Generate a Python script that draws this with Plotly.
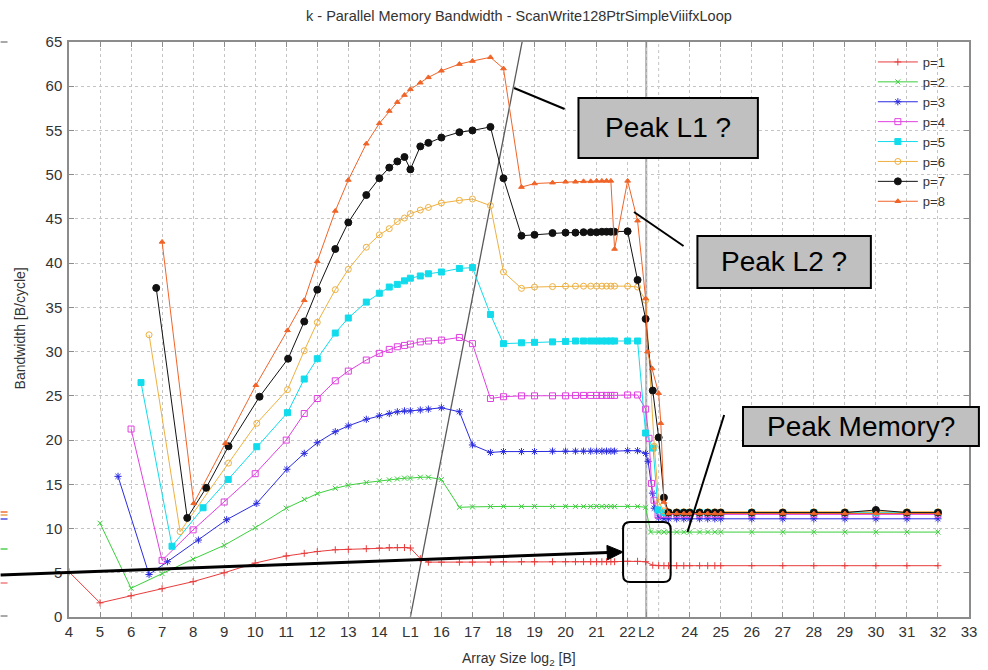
import plotly.graph_objects as go

# ---------------- data ----------------
L1 = 15
L2 = 22.6

x_ticks = [4, 5, 6, 7, 8, 9, 10, 11, 12, 13, 14, L1, 16, 17, 18, 19, 20, 21, 22, L2,
           24, 25, 26, 27, 28, 29, 30, 31, 32, 33]
x_ticktext = ["4", "5", "6", "7", "8", "9", "10", "11", "12", "13", "14", "L1", "16", "17",
              "18", "19", "20", "21", "22", "L2", "24", "25", "26", "27", "28", "29",
              "30", "31", "32", "33"]
unlabelled_grid_x = [23]
y_ticks = [0, 5, 10, 15, 20, 25, 30, 35, 40, 45, 50, 55, 60, 65]

# shared array-size positions (log2 bytes)
mid_x = [11.58, 12, 12.58, 13, 13.58, 14, 14.32, 14.58, 14.81, 15, 15.32, 15.58, 16,
         16.58, 17, 17.58, 18, 18.58, 19, 19.58, 20, 20.32, 20.58, 20.81, 21, 21.17,
         21.32, 21.46, 21.58, 22, 22.32, 22.58]
tail_x = [23.32, 23.58, 23.81, 24, 24.32, 24.58, 24.81, 25, 26, 27, 28, 29, 30, 31, 32]

p1_x = [4, 5, 6, 7, 8, 9, 10, 11] + mid_x + [22.81, 23, 23.17] + tail_x
p1_y = [5.1, 1.6, 2.4, 3.2, 4.0, 5.0, 6.1, 6.9,
        7.2, 7.4, 7.6, 7.65, 7.72, 7.8, 7.85, 7.85, 7.85, 7.8, 6.6, 6.2, 6.2, 6.2, 6.2,
        6.2, 6.25, 6.25, 6.25, 6.25, 6.25, 6.25, 6.25, 6.25, 6.25, 6.25, 6.25, 6.25,
        6.25, 6.3, 6.3, 6.25,
        5.85, 5.8, 5.8,
        5.8, 5.8, 5.8, 5.8, 5.8, 5.8, 5.8, 5.8, 5.8, 5.8, 5.8, 5.8, 5.8, 5.8, 5.8]

p2_x = [5, 6, 7, 8, 9, 10, 11] + mid_x + [22.74, 23, 23.17] + tail_x
p2_y = [10.6, 3.25, 4.9, 6.55, 8.1, 10.1, 12.3,
        13.3, 13.95, 14.55, 14.9, 15.2, 15.4, 15.5, 15.6, 15.7, 15.7, 15.8, 15.8, 15.55,
        12.4, 12.45, 12.5, 12.5, 12.5, 12.5, 12.5, 12.5, 12.5, 12.5, 12.5, 12.5, 12.5,
        12.5, 12.5, 12.5, 12.5, 12.5, 12.4,
        9.6, 9.6, 9.6,
        9.6, 9.6, 9.6, 9.6, 9.6, 9.6, 9.6, 9.6, 9.6, 9.6, 9.6, 9.6, 9.6, 9.6, 9.6]

p3_x = [5.58, 6.58, 7.17, 8.17, 9.08, 10.05, 11.02] + mid_x + [22.66, 22.8, 22.86, 23, 23.17] + tail_x
p3_y = [15.9, 4.8, 6.25, 8.7, 11.0, 12.85, 16.7,
        18.5, 19.7, 20.95, 21.6, 22.35, 22.75, 23.0, 23.2, 23.3, 23.3, 23.4, 23.5, 23.65,
        23.2, 19.45, 18.6, 18.7, 18.7, 18.7, 18.75, 18.75, 18.75, 18.75, 18.75, 18.75,
        18.75, 18.75, 18.75, 18.75, 18.8, 18.8, 18.5,
        17.6, 14.0, 12.3, 11.2, 11.1,
        11.1, 11.1, 11.1, 11.1, 11.1, 11.1, 11.1, 11.1, 11.1, 11.1, 11.1, 11.1, 11.1, 11.1, 11.1]

p4_x = [6, 7, 8, 9, 10, 11] + mid_x + [22.69, 22.77, 22.85, 22.98, 23.17] + tail_x
p4_y = [21.25, 6.4, 9.85, 13.0, 16.2, 20.0,
        23.0, 24.7, 26.7, 27.8, 29.05, 29.8, 30.25, 30.55, 30.7, 30.85, 31.1, 31.2, 31.3,
        31.6, 30.9, 24.7, 24.9, 25.0, 25.0, 25.0, 25.0, 25.05, 25.05, 25.05, 25.05,
        25.05, 25.05, 25.05, 25.05, 25.1, 25.1, 23.5,
        20.2, 15.1, 13.2, 11.5, 11.6,
        11.6, 11.6, 11.6, 11.6, 11.6, 11.6, 11.6, 11.6, 11.6, 11.6, 11.6, 11.6, 11.6, 11.6, 11.6]

p5_x = [6.32, 7.32, 8.32, 9.13, 10.05, 11.04] + mid_x + [22.82, 22.98, 23.17] + tail_x
p5_y = [26.5, 8.0, 12.35, 15.55, 19.25, 23.1,
        26.9, 29.2, 32.1, 33.8, 35.6, 36.6, 37.3, 37.6, 38.0, 38.3, 38.55, 38.8, 39.0,
        39.4, 39.5, 34.2, 30.9, 31.0, 31.05, 31.1, 31.15, 31.2, 31.2, 31.2, 31.2, 31.2,
        31.2, 31.2, 31.2, 31.2, 31.2, 20.8,
        19.1, 12.1, 11.8,
        11.8, 11.8, 11.8, 11.8, 11.8, 11.8, 11.8, 11.8, 11.8, 11.8, 11.8, 11.8, 11.8, 11.8, 11.8]

p6_x = [6.58, 7.58, 9.14, 10.05, 11.04] + mid_x + [22.86, 23, 23.17] + tail_x
p6_y = [31.9, 9.65, 17.4, 21.9, 25.7,
        30.1, 33.3, 37.0, 39.3, 41.8, 43.2, 43.9, 44.7, 45.1, 45.6, 46.0, 46.3, 46.8,
        47.1, 47.25, 46.5, 39.0, 37.15, 37.3, 37.35, 37.4, 37.4, 37.4, 37.4, 37.4, 37.4,
        37.4, 37.4, 37.4, 37.4, 37.3, 35.8,
        19.3, 13.0, 12.0,
        11.9, 11.9, 11.9, 11.9, 11.9, 11.9, 11.9, 11.9, 11.9, 11.9, 11.9, 11.9, 11.9, 11.9, 11.9]

p7_x = [6.81, 7.81, 8.42, 9.14, 10.14, 11.06] + mid_x + [22.81, 23, 23.17] + tail_x
p7_y = [37.2, 11.2, 14.6, 19.3, 24.9, 29.2,
        33.4, 37.0, 41.6, 44.6, 47.7, 49.6, 50.8, 51.5, 52.0, 50.6, 53.2, 53.6, 54.2,
        54.8, 55.0, 55.4, 49.6, 43.1, 43.2, 43.4, 43.45, 43.45, 43.5, 43.5, 43.5, 43.55,
        43.55, 43.55, 43.55, 43.6, 38.1, 33.7,
        25.6, 20.3, 13.5,
        11.8, 11.8, 11.8, 11.8, 11.8, 11.8, 11.8, 11.8, 11.8, 11.8, 11.8, 11.8, 12.1, 11.8, 11.8]

p8_x = [7.0, 8.02, 9.04, 10.02, 11.04] + mid_x + [22.64, 22.79, 23, 23.07, 23.17] + tail_x
p8_y = [42.4, 12.85, 19.65, 26.2, 32.4,
        35.8, 40.2, 45.9, 49.4, 53.5, 55.8, 57.2, 58.2, 59.0, 59.65, 60.4, 61.0, 61.75,
        62.5, 62.85, 63.27, 62.0, 48.6, 49.0, 49.1, 49.2, 49.2, 49.25, 49.25, 49.3, 49.3,
        49.3, 49.3, 41.6, 49.3, 44.8, 36.0,
        30.0, 28.1, 25.3, 21.9, 13.0,
        11.7, 11.7, 11.7, 11.7, 11.7, 11.7, 11.7, 11.7, 11.7, 11.7, 11.7, 11.7, 11.7, 11.7, 11.7]

series_names = ["p=1", "p=2", "p=3", "p=4", "p=5", "p=6", "p=7", "p=8"]
series_x = [p1_x, p2_x, p3_x, p4_x, p5_x, p6_x, p7_x, p8_x]
series_y = [p1_y, p2_y, p3_y, p4_y, p5_y, p6_y, p7_y, p8_y]

# guide line drawn from L1 upward
diag_x = [L1, 18.6]
diag_y = [0, 65]

# ---------------- style ----------------
colors = ["#e83c3c", "#3ccf3c", "#2b2be0", "#e040e0", "#10dcec", "#eeb040", "#111111", "#f06428"]
symbols = ["cross-thin-open", "x-thin-open", "asterisk-open", "square-open", "square",
           "circle-open", "circle", "triangle-up"]
msizes = [5, 5, 6, 6, 6, 6, 7, 5]

PL, PR, PT, PB = 69, 977, 42, 617
W, H = 988, 670


def fx(px):
    return (px - PL) / (PR - PL)


def fy(py):
    return (PB - py) / (PB - PT)


def pt(px, py):
    return f"{fx(px)},{fy(py)}"


fig = go.Figure()

fig.add_trace(go.Scatter(x=diag_x, y=diag_y, mode="lines", showlegend=False,
                         line=dict(color="#5a5a5a", width=1.3), hoverinfo="skip"))

for name, xs, ys, c, s, ms in zip(series_names, series_x, series_y, colors, symbols, msizes):
    fig.add_trace(go.Scatter(
        x=xs, y=ys, mode="lines+markers", name=name,
        line=dict(color=c, width=1),
        marker=dict(symbol=s, size=ms, color=c, line=dict(color=c, width=1)),
    ))

GRIDCOL = "#c4c4c4"
axis_common = dict(
    showline=True, linecolor="#8c8c8c", linewidth=1.5, mirror="ticks",
    ticks="inside", ticklen=5, tickcolor="#8c8c8c", tickwidth=1,
    showgrid=True, gridcolor=GRIDCOL, gridwidth=1, griddash="dot",
    zeroline=False, tickfont=dict(family="Liberation Sans, Arial", size=15, color="#333333"),
)

fig.update_xaxes(range=[4, 33], tickmode="array", tickvals=x_ticks, ticktext=x_ticktext,
                 tickangle=0, **axis_common)
fig.update_yaxes(range=[0, 65], tickmode="array", tickvals=y_ticks, ticklabelstandoff=2,
                 **axis_common)

shapes = []
# grid line for the unlabelled position
for gx in unlabelled_grid_x:
    shapes.append(dict(type="line", xref="x", yref="y", x0=gx, x1=gx, y0=0, y1=65,
                       line=dict(color=GRIDCOL, width=1, dash="dot"), layer="below"))
# L2 marker line
shapes.append(dict(type="line", xref="x", yref="y", x0=L2, x1=L2, y0=0, y1=65,
                   line=dict(color="#a8a8a8", width=2), layer="below"))

# overlay call-out boxes
for (x0, y0, x1, y1) in [(583, 98, 764, 158), (703, 236, 878, 288), (749, 407, 987, 446)]:
    shapes.append(dict(type="rect", xref="paper", yref="paper",
                       x0=fx(x0), x1=fx(x1), y0=fy(y1), y1=fy(y0),
                       line=dict(color="#000000", width=2), fillcolor="#c0c0c0", layer="above"))

# pointer lines
for (x0, y0, x1, y1) in [(518, 88, 569, 109), (639, 212, 689, 246), (730, 415, 693, 532)]:
    shapes.append(dict(type="line", xref="paper", yref="paper",
                       x0=fx(x0), y0=fy(y0), x1=fx(x1), y1=fy(y1),
                       line=dict(color="#000000", width=2), layer="above"))

# big arrow (shaft + head)
shapes.append(dict(type="line", xref="paper", yref="paper",
                   x0=fx(0), y0=fy(575), x1=fx(613), y1=fy(552.6),
                   line=dict(color="#000000", width=3), layer="above"))
shapes.append(dict(type="path", xref="paper", yref="paper",
                   path=f"M {pt(628, 552)} L {pt(612.3, 559.8)} L {pt(611.7, 545.4)} Z",
                   fillcolor="#000000", line=dict(color="#000000", width=1), layer="above"))

# rounded rectangle
xl, xr, yt, yb = fx(628), fx(676), fy(522), fy(582)
rx, ry = 7 / (PR - PL), 7 / (PB - PT)
path = (f"M {xl+rx},{yt} L {xr-rx},{yt} Q {xr},{yt} {xr},{yt-ry} L {xr},{yb+ry} "
        f"Q {xr},{yb} {xr-rx},{yb} L {xl+rx},{yb} Q {xl},{yb} {xl},{yb+ry} "
        f"L {xl},{yt-ry} Q {xl},{yt} {xl+rx},{yt} Z")
shapes.append(dict(type="path", xref="paper", yref="paper", path=path,
                   line=dict(color="#000000", width=2), layer="above"))

# slide remnants at the left edge
for (yy, col) in [(42, "#8c8c8c"), (512, "#f07030"), (515, "#e8a050"), (519, "#5050e0"),
                  (549, "#50d050"), (583, "#f08080"), (616, "#8c8c8c")]:
    shapes.append(dict(type="line", xref="paper", yref="paper",
                       x0=fx(0), x1=fx(7), y0=fy(yy), y1=fy(yy),
                       line=dict(color=col, width=1.5), layer="above"))

fig.update_layout(shapes=shapes)

FONT = "Liberation Sans, Arial, sans-serif"
annotations = [
    dict(text="k - Parallel Memory Bandwidth - ScanWrite128PtrSimpleViiifxLoop",
         x=fx(523), y=fy(16), xref="paper", yref="paper", showarrow=False,
         font=dict(family=FONT, size=14.5, color="#333333"), xanchor="center", yanchor="middle"),
    dict(text="Array Size log<sub>2</sub> [B]", x=fx(523), y=fy(659), xref="paper", yref="paper",
         showarrow=False, font=dict(family=FONT, size=14, color="#333333"),
         xanchor="center", yanchor="middle"),
    dict(text="Bandwidth [B/cycle]", x=fx(20), y=fy(328), xref="paper", yref="paper",
         showarrow=False, textangle=-90, font=dict(family=FONT, size=14, color="#333333"),
         xanchor="center", yanchor="middle"),
    dict(text="Peak L1 ?", x=fx(673.5), y=fy(127), xref="paper", yref="paper", showarrow=False,
         font=dict(family=FONT, size=28, color="#000000"), xanchor="center", yanchor="middle"),
    dict(text="Peak L2 ?", x=fx(790), y=fy(261), xref="paper", yref="paper", showarrow=False,
         font=dict(family=FONT, size=28, color="#000000"), xanchor="center", yanchor="middle"),
    dict(text="Peak Memory?", x=fx(868), y=fy(426), xref="paper", yref="paper", showarrow=False,
         font=dict(family=FONT, size=28, color="#000000"), xanchor="center", yanchor="middle"),
]
fig.update_layout(annotations=annotations)

fig.update_layout(
    width=W, height=H, autosize=False,
    margin=dict(l=PL, r=W - PR, t=PT, b=H - PB, pad=0),
    paper_bgcolor="#ffffff", plot_bgcolor="#ffffff",
    font=dict(family=FONT, color="#333333"),
    legend=dict(x=fx(880), y=fy(47), xanchor="left", yanchor="top",
                bgcolor="rgba(0,0,0,0)", borderwidth=0, itemwidth=40,
                font=dict(family=FONT, size=13, color="#333333"), tracegroupgap=0),
)

fig.write_html("out.html", config={"displayModeBar": False},
               post_script="document.body.style.margin='0px';document.body.style.overflow='hidden';")
